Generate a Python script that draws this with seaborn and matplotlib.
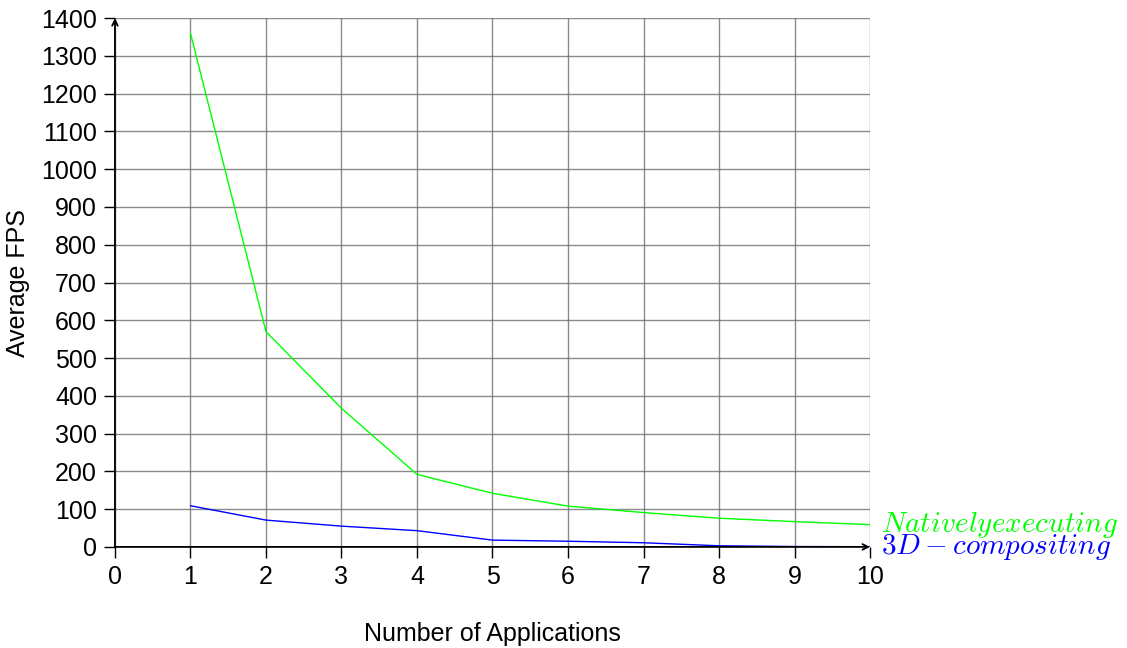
import matplotlib
matplotlib.use("Agg")
import matplotlib.pyplot as plt
import seaborn as sns
import pandas as pd

apps = [1, 2, 3, 4, 5, 6, 7, 8, 9, 10]
native_fps = [1360, 570, 367, 192, 142, 108, 91, 76, 67, 59]
composite_fps = [109, 71, 55, 43, 18, 15, 11, 3, 1, 0.5]
series_names = ["Nativelyexecuting", "3D-compositing"]
series_labels = [r"$Nativelyexecuting$", r"$3D-compositing$"]
colors = ["#00ff00", "#0000ff"]
x_ticks = list(range(0, 11))
y_ticks = list(range(0, 1401, 100))

sns.set_theme(style="white")
plt.rcParams["font.family"] = ["Liberation Sans", "DejaVu Sans"]
plt.rcParams["mathtext.fontset"] = "cm"
plt.rcParams["text.color"] = "black"
plt.rcParams["axes.labelcolor"] = "black"
plt.rcParams["xtick.color"] = "black"
plt.rcParams["ytick.color"] = "black"

df = pd.DataFrame({
    "apps": apps * 2,
    "fps": native_fps + composite_fps,
    "series": [series_names[0]] * len(apps) + [series_names[1]] * len(apps),
})

fig = plt.figure(figsize=(11.27, 6.48), dpi=100)
ax = fig.add_axes([0.102, 0.156, 0.670, 0.816])

sns.lineplot(data=df, x="apps", y="fps", hue="series", palette=colors,
             hue_order=series_names, linewidth=1.0, legend=False, ax=ax,
             zorder=3)

ax.set_xlim(0, 10)
ax.set_ylim(0, 1400)
ax.set_xticks(x_ticks)
ax.set_yticks(y_ticks)
ax.grid(True, color="#6e6e6e", linewidth=1.0, alpha=0.8)
ax.set_axisbelow(True)
for s in ax.spines.values():
    s.set_visible(False)

ax.tick_params(axis="both", direction="out", length=8, width=1.0,
               color="black", labelcolor="black", labelsize=18, pad=5)
ax.tick_params(left=True, bottom=True)

ax.annotate("", xy=(0, 1.0), xytext=(0, 0), xycoords="axes fraction",
            arrowprops=dict(arrowstyle="->", lw=1.3, color="black",
                            shrinkA=0, shrinkB=0, mutation_scale=10), zorder=5)
ax.annotate("", xy=(1.0, 0), xytext=(0, 0), xycoords="axes fraction",
            arrowprops=dict(arrowstyle="->", lw=1.3, color="black",
                            shrinkA=0, shrinkB=0, mutation_scale=10), zorder=5)

ax.set_xlabel("Number of Applications", fontsize=18, labelpad=24, color="black")
ax.set_ylabel("Average FPS", fontsize=18, labelpad=8, color="black")

ends = [native_fps[-1], composite_fps[-1]]
for lab, val, col in zip(series_labels, ends, colors):
    ax.annotate(lab, xy=(apps[-1], val), xytext=(8, 0),
                textcoords="offset points", va="center", ha="left",
                color=col, fontsize=21, annotation_clip=False)

fig.savefig("out.png", dpi=100)
